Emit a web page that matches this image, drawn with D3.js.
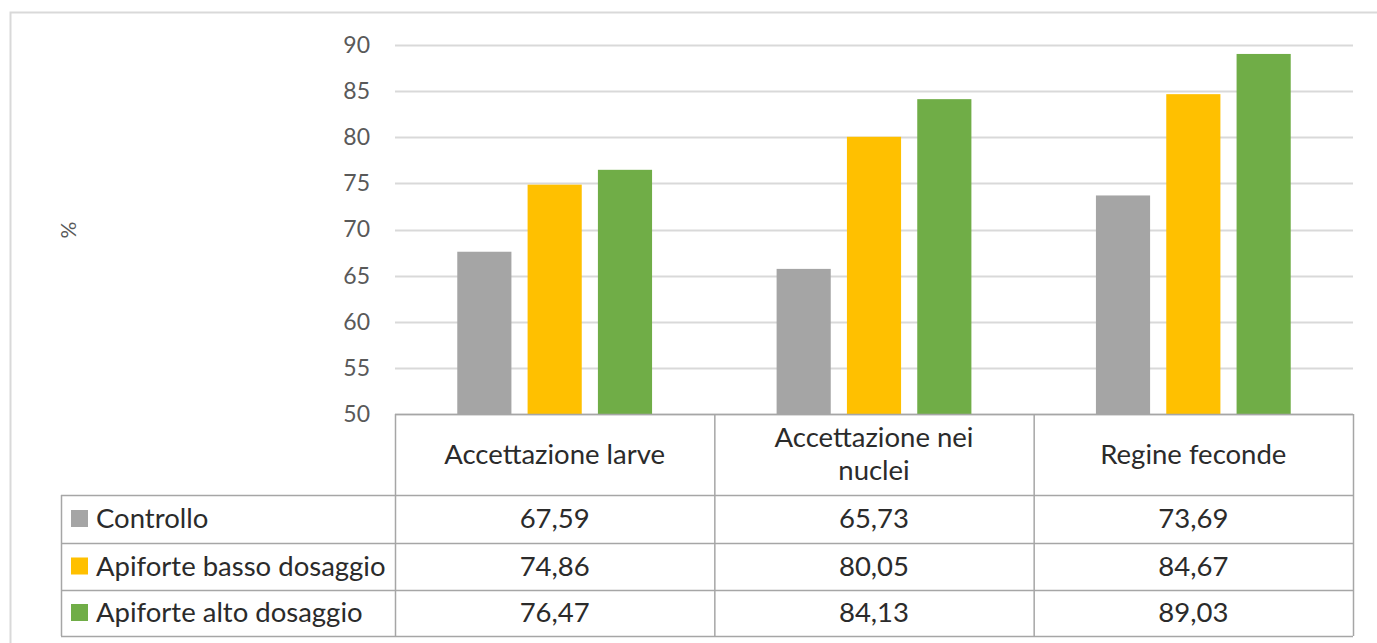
<!DOCTYPE html>
<html>
<head>
<meta charset="utf-8">
<script src="https://cdn.jsdelivr.net/npm/d3@7"></script>
<style>
  body { margin: 0; background: #fff; }
  svg { display: block; font-family: Lato, "Open Sans", sans-serif; }
</style>
</head>
<body>
<svg></svg>
<script>
let categories = ["Accettazione larve", "Accettazione nei nuclei", "Regine feconde"];
let categoryLines = [["Accettazione larve"], ["Accettazione nei", "nuclei"], ["Regine feconde"]];
let seriesNames = ["Controllo", "Apiforte basso dosaggio", "Apiforte alto dosaggio"];
let controllo = [67.59, 65.73, 73.69];
let bassoDosaggio = [74.86, 80.05, 84.67];
let altoDosaggio = [76.47, 84.13, 89.03];
let yTicks = [50, 55, 60, 65, 70, 75, 80, 85, 90];
let colors = ["#a5a5a5", "#ffc000", "#70ad47"];

let seriesValues = [controllo, bassoDosaggio, altoDosaggio];

let svgWidth = 1377, svgHeight = 643;
let plotLeft = 395, plotRight = 1353, plotTop = 45, plotBottom = 414;
let headerBottom = 495;
let rowHeights = [48, 47, 46];
let legendLeft = 61;
let tableFont = 27.5;
let textColor = "#2b2b2b";

let svg = d3.select("svg")
    .attr("width", svgWidth)
    .attr("height", svgHeight);

// Outer chart frame
svg.append("rect")
    .attr("x", 10.5)
    .attr("y", 12.5)
    .attr("width", 1500)
    .attr("height", 800)
    .attr("fill", "none")
    .attr("stroke", "#d9d9d9")
    .attr("stroke-width", 2);

// Scales
let x0 = d3.scaleBand()
    .domain(categories)
    .range([plotLeft, plotRight]);

let x1 = d3.scaleBand()
    .domain(seriesNames)
    .range([x0.bandwidth() * 0.195, x0.bandwidth() * 0.805])
    .paddingInner(0.23);

let yScale = d3.scaleLinear()
    .domain([50, 90])
    .range([plotBottom, plotTop]);

// Gridlines
svg.append("g")
    .selectAll("line")
    .data(yTicks)
    .enter()
    .append("line")
    .attr("x1", plotLeft)
    .attr("x2", plotRight)
    .attr("y1", d => Math.round(yScale(d)) + 0.5)
    .attr("y2", d => Math.round(yScale(d)) + 0.5)
    .attr("stroke", "#d9d9d9")
    .attr("stroke-width", 2);

// Y axis labels
let y_axis = d3.axisLeft(yScale)
    .tickValues(yTicks)
    .tickSize(0)
    .tickPadding(25);

let yAxisG = svg.append("g")
    .attr("transform", `translate(${plotLeft}, 0)`)
    .call(y_axis);
yAxisG.select(".domain").remove();
yAxisG.selectAll("text")
    .attr("font-family", "Lato, 'Open Sans', sans-serif")
    .attr("font-size", 23)
    .attr("fill", "#595959");

// Y axis title
svg.append("text")
    .attr("transform", "translate(76, 230) rotate(-90)")
    .attr("text-anchor", "middle")
    .attr("font-size", 21)
    .attr("fill", "#595959")
    .text("%");

// Bars
let groups = svg.append("g")
    .selectAll("g")
    .data(categories)
    .enter()
    .append("g")
    .attr("transform", d => `translate(${x0(d)}, 0)`);

groups.selectAll("rect")
    .data((d, i) => seriesNames.map((s, j) => ({ series: s, value: seriesValues[j][i], color: colors[j] })))
    .enter()
    .append("rect")
    .attr("x", d => x1(d.series))
    .attr("y", d => yScale(d.value))
    .attr("width", x1.bandwidth())
    .attr("height", d => plotBottom - yScale(d.value))
    .attr("fill", d => d.color);

// Data table
let lineColor = "#a6a6a6";
let table = svg.append("g");
let rowTops = [headerBottom];
rowHeights.forEach((h, i) => rowTops.push(rowTops[i] + h));
let tableBottom = rowTops[rowTops.length - 1];

// Horizontal lines
table.append("line")
    .attr("x1", plotLeft).attr("x2", plotRight)
    .attr("y1", plotBottom + 0.5).attr("y2", plotBottom + 0.5)
    .attr("stroke", lineColor).attr("stroke-width", 1.5);

table.selectAll(".hline")
    .data(rowTops)
    .enter()
    .append("line")
    .attr("class", "hline")
    .attr("x1", legendLeft).attr("x2", plotRight)
    .attr("y1", d => d + 0.5).attr("y2", d => d + 0.5)
    .attr("stroke", lineColor).attr("stroke-width", 1.5);

// Vertical lines
let colEdges = categories.map(c => x0(c)).concat([plotRight]);
table.selectAll(".vline")
    .data(colEdges)
    .enter()
    .append("line")
    .attr("class", "vline")
    .attr("x1", d => d + 0.5).attr("x2", d => d + 0.5)
    .attr("y1", plotBottom).attr("y2", tableBottom)
    .attr("stroke", lineColor).attr("stroke-width", 1.5);

table.append("line")
    .attr("x1", legendLeft + 0.5).attr("x2", legendLeft + 0.5)
    .attr("y1", headerBottom).attr("y2", tableBottom)
    .attr("stroke", lineColor).attr("stroke-width", 1.5);

// Header labels
let headers = table.selectAll(".header")
    .data(categories)
    .enter()
    .append("text")
    .attr("class", "header")
    .attr("text-anchor", "middle")
    .attr("font-size", tableFont)
    .attr("fill", textColor);

headers.each(function(d, i) {
    let lines = categoryLines[i];
    let cx = x0(d) + x0.bandwidth() / 2;
    let cy = (plotBottom + headerBottom) / 2 + 9 - (lines.length - 1) * 16.5;
    d3.select(this).selectAll("tspan")
        .data(lines)
        .enter()
        .append("tspan")
        .attr("x", cx)
        .attr("y", (l, k) => cy + k * 33)
        .text(l => l);
});

// Series rows
let fmt = d3.formatLocale({ decimal: ",", thousands: ".", grouping: [3], currency: ["", "€"] }).format(".2f");

let rows = table.selectAll(".row")
    .data(seriesNames)
    .enter()
    .append("g")
    .attr("class", "row")
    .attr("transform", (d, i) => `translate(0, ${(rowTops[i] + rowTops[i + 1]) / 2})`);

rows.append("rect")
    .attr("x", 71)
    .attr("y", -9)
    .attr("width", 17)
    .attr("height", 17)
    .attr("fill", (d, i) => colors[i]);

rows.append("text")
    .attr("x", 96)
    .attr("y", 9)
    .attr("font-size", tableFont)
    .attr("fill", textColor)
    .text(d => d);

rows.selectAll(".val")
    .data((d, i) => seriesValues[i])
    .enter()
    .append("text")
    .attr("class", "val")
    .attr("x", (v, k) => x0(categories[k]) + x0.bandwidth() / 2)
    .attr("y", 9)
    .attr("text-anchor", "middle")
    .attr("font-size", tableFont)
    .attr("fill", textColor)
    .text(v => fmt(v));
</script>
</body>
</html>
